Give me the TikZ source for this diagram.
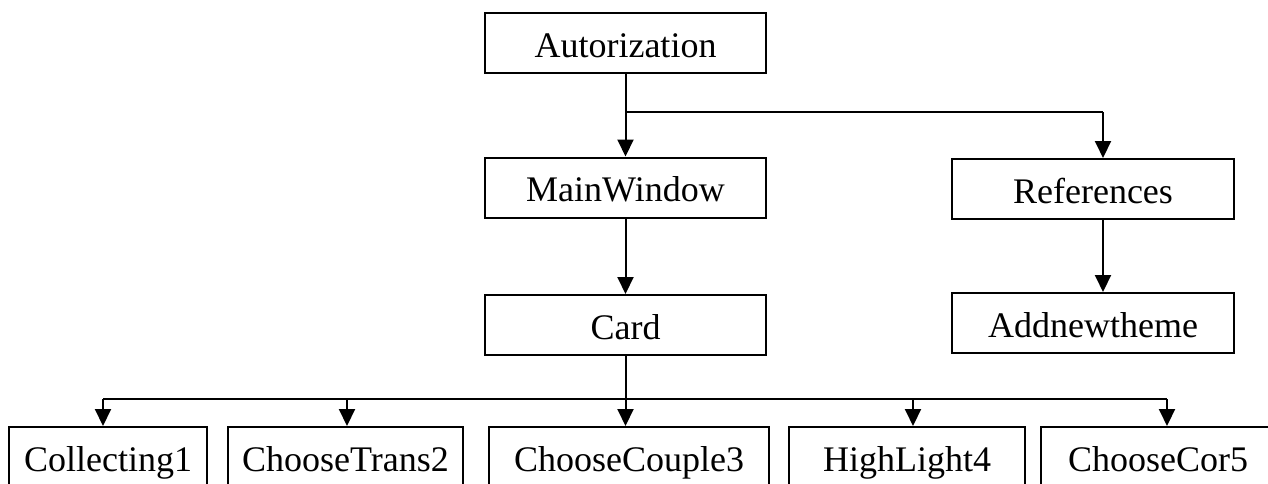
\documentclass[tikz,border=0pt]{standalone}
\usepackage{fontspec}
\setmainfont{Liberation Serif}
\usetikzlibrary{arrows.meta}
\begin{document}
\begin{tikzpicture}[x=1pt,y=-1pt,
  box/.style={draw, line width=2pt, minimum height=60pt, inner sep=0pt,
    text height=34pt, text depth=6pt,
    font=\fontsize{36}{40}\selectfont},
  arr/.style={line width=2pt, -{Triangle[length=17pt,width=16pt]}},
  ln/.style={line width=2pt}]
\useasboundingbox (0,0) rectangle (1268,483);

% upper part of the tree
\node[box, minimum width=281pt] (auth) at (625.5,43) {Autorization};
\node[box, minimum width=281pt] (main) at (625.5,187.5) {MainWindow};
\node[box, minimum width=281pt] (card) at (625.5,325) {Card};
\node[box, minimum width=282pt] (refs) at (1093,189) {References};
\node[box, minimum width=282pt] (addt) at (1093,323) {Addnewtheme};

% lower row
\node[box, minimum width=198pt] (c1) at (108,457) {Collecting1};
\node[box, minimum width=235pt] (c2) at (345.5,457) {ChooseTrans2};
\node[box, minimum width=280pt] (c3) at (629,457) {ChooseCouple3};
\node[box, minimum width=236pt] (c4) at (907,457) {HighLight4};
\node[box, minimum width=234pt] (c5) at (1158,457) {ChooseCor5};

% junction points
\coordinate (j0) at (625.5,112);
\coordinate (jr) at (1103,112);
\coordinate (jb) at (625.5,399);
\coordinate (b1) at (103,399);
\coordinate (b2) at (347,399);
\coordinate (b3) at (625.5,399);
\coordinate (b4) at (913,399);
\coordinate (b5) at (1167,399);

% connectors from Autorization
\draw[ln] (auth.south) -- (j0) -- (jr);
\draw[arr] (j0) -- (main.north);
\draw[arr] (jr) -- (jr |- refs.north);

% vertical chains
\draw[arr] (main.south) -- (card.north);
\draw[arr] (refs.south -| jr) -- (jr |- addt.north);

% bus under Card
\draw[ln] (card.south) -- (jb);
\draw[ln] (b1) -- (b5);
\draw[arr] (b1) -- (b1 |- c1.north);
\draw[arr] (b2) -- (b2 |- c2.north);
\draw[arr] (b3) -- (b3 |- c3.north);
\draw[arr] (b4) -- (b4 |- c4.north);
\draw[arr] (b5) -- (b5 |- c5.north);
\end{tikzpicture}
\end{document}
